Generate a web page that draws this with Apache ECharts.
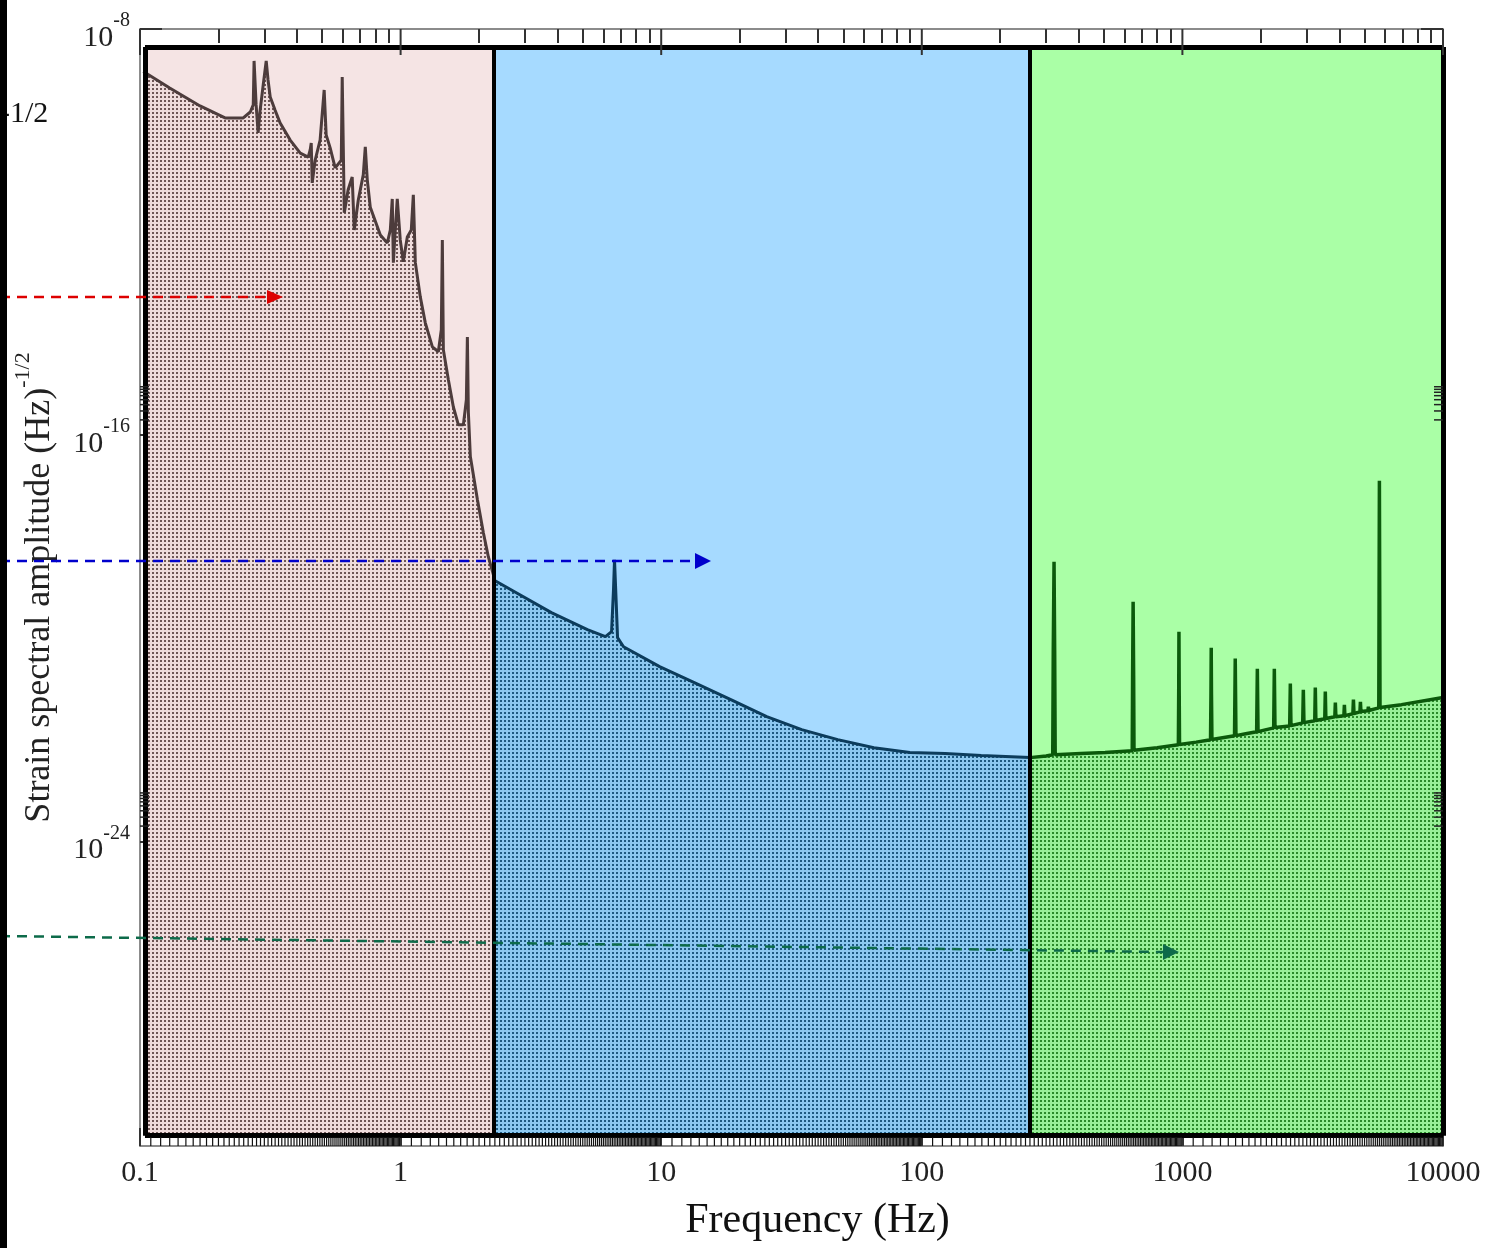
<!DOCTYPE html>
<html>
<head>
<meta charset="utf-8">
<script src="https://cdn.jsdelivr.net/npm/echarts@6/dist/echarts.min.js"></script>
<style>
  html, body { margin: 0; padding: 0; background: #fff; }
  #chart { width: 1490px; height: 1248px; }
</style>
</head>
<body>
<div id="chart"></div>
<script>
// frequency (Hz), strain amplitude (Hz^-1/2)
const pinkCurve = [
  [0.103, 1.45e-9], [0.130, 6.9e-10], [0.170, 3.05e-10], [0.212, 1.77e-10], [0.249, 1.77e-10],
  [0.265, 2.32e-10], [0.272, 3.2e-10], [0.274, 2.35e-9], [0.279, 3.2e-10], [0.284, 9.0e-11],
  [0.289, 2.5e-10], [0.297, 7.9e-10], [0.305, 2.35e-9], [0.310, 9.9e-10], [0.316, 4.6e-10],
  [0.330, 2.5e-10], [0.345, 1.41e-10], [0.377, 6.5e-11], [0.412, 3.6e-11], [0.442, 3.0e-11],
  [0.450, 4.2e-11], [0.454, 5.7e-11], [0.458, 9.3e-12], [0.470, 2.6e-11], [0.491, 6.5e-11],
  [0.509, 6.3e-10], [0.518, 8.2e-11], [0.537, 4.5e-11], [0.561, 1.84e-11], [0.592, 2.6e-11],
  [0.597, 1.13e-9], [0.608, 2.4e-12], [0.629, 6.8e-12], [0.652, 1.22e-11], [0.664, 1.1e-12],
  [0.688, 4.3e-12], [0.719, 1.34e-11], [0.732, 4.75e-11], [0.745, 1.07e-11], [0.765, 3.1e-12],
  [0.836, 8.8e-13], [0.889, 6.1e-13], [0.913, 1.1e-12], [0.929, 4.5e-12], [0.938, 2.5e-13],
  [0.954, 1.1e-12], [0.971, 4.5e-12], [0.997, 7.0e-13], [1.024, 2.6e-13], [1.061, 8.0e-13],
  [1.099, 1.1e-12], [1.119, 5.4e-12], [1.139, 2.5e-13], [1.190, 5.3e-14], [1.244, 1.63e-14],
  [1.324, 5.5e-15], [1.396, 4.4e-15], [1.433, 1.19e-14], [1.446, 7.0e-13], [1.459, 4.8e-15],
  [1.525, 1.23e-15], [1.594, 3.6e-16], [1.666, 1.6e-16], [1.741, 1.6e-16], [1.788, 5.0e-16],
  [1.804, 8.6e-15], [1.820, 2.8e-16], [1.852, 3.8e-17], [1.971, 5.4e-18], [2.078, 1.2e-18],
  [2.172, 4.0e-19], [2.27, 1.8e-19]
];
const blueCurve = [
  [2.27, 1.42e-19], [2.78, 7.9e-20], [3.79, 3.2e-20], [5.21, 1.48e-20], [6.11, 1.08e-20],
  [6.45, 1.35e-20], [6.56, 9.0e-20], [6.62, 3.5e-19], [6.69, 9.0e-20], [6.80, 1.03e-20],
  [7.17, 6.8e-21], [9.86, 2.76e-21], [13.4, 1.34e-21], [18.5, 6.2e-22], [25.4, 2.86e-22],
  [34.6, 1.59e-22], [47.6, 1.01e-22], [65.5, 7.0e-23], [90, 5.6e-23], [123, 5.35e-23],
  [169, 4.9e-23], [260, 4.46e-23]
];
const greenCurve = [
  [260, 4.46e-23], [300, 4.8e-23],
  [318, 5.1e-23], [319.5, 5.5e-21], [321.7, 3.2e-19], [323.5, 5.5e-21], [325, 5.1e-23],
  [408, 5.35e-23], [505, 5.6e-23],
  [642, 6.1e-23], [644, 1.75e-21], [647, 5.25e-20], [650, 1.75e-21], [652, 6.2e-23],
  [800, 7.0e-23],
  [965, 8.0e-23], [968, 9.7e-22], [970, 1.35e-20], [972, 9.7e-22], [975, 8.1e-23],
  [1130, 9.0e-23],
  [1282, 1.0e-22], [1287, 7.8e-22], [1290, 6.5e-21], [1293, 7.8e-22], [1298, 1.01e-22],
  [1585, 1.2e-22], [1595, 4.0e-21], [1605, 1.21e-22],
  [1750, 1.32e-22],
  [1927, 1.44e-22], [1939, 2.5e-21], [1951, 1.45e-22],
  [2240, 1.72e-22], [2253, 2.5e-21], [2266, 1.74e-22],
  [2580, 1.88e-22], [2595, 1.28e-21], [2610, 1.9e-22],
  [2895, 2.16e-22], [2911, 9.7e-22], [2927, 2.18e-22],
  [3220, 2.37e-22], [3236, 1.07e-21], [3252, 2.4e-22],
  [3518, 2.6e-22], [3535, 8.9e-22], [3552, 2.62e-22],
  [3845, 2.84e-22], [3863, 5.4e-22], [3881, 2.86e-22],
  [4165, 2.98e-22], [4184, 4.9e-22], [4203, 3.0e-22],
  [4510, 3.25e-22], [4532, 6.2e-22], [4554, 3.3e-22],
  [4800, 3.55e-22], [4821, 5.6e-22], [4842, 3.6e-22],
  [5150, 3.75e-22], [5172, 4.5e-22], [5194, 3.78e-22],
  [5670, 4.25e-22], [5685, 7.2e-20], [5701, 1.27e-17], [5717, 7.2e-20], [5732, 4.35e-22],
  [6928, 4.93e-22], [10000, 6.8e-22]
];

// band limits: [left, divider1, divider2, right], box top / bottom
const bandEdges = [0.1045, 2.27, 260, 10000];
const boxTop = 4.4e-9;
const boxBottom = 1.6e-30;

const freqTicks = [0.1, 1, 10, 100, 1000, 10000];
const freqLabels = ['0.1', '1', '10', '100', '1000', '10000'];
const ampTicks = [1e-8, 1e-16, 1e-24];
const ampMinorTicks = [2e-16, 3e-16, 4e-16, 5e-16, 6e-16, 7e-16, 8e-16, 9e-16,
                       2e-24, 3e-24, 4e-24, 5e-24, 6e-24, 7e-24, 8e-24, 9e-24];

// log minor ticks (2..9 per decade) and the dense bottom band
const freqMinorTicks = [];
const freqDenseTicks = [];
[0.1, 1, 10, 100, 1000].forEach(d => {
    for (let k = 2; k <= 9; k++) freqMinorTicks.push(d * k);
    for (let k = 11; k <= 99; k++) freqDenseTicks.push(d * k / 10);
});

const SERIF = '"Liberation Serif", "DejaVu Serif", serif';
const AMP_TOP = 1e-8, AMP_BOTTOM = 1e-30;

function dots(bg, dot) {
    const c = document.createElement('canvas');
    c.width = 4; c.height = 4;
    const g = c.getContext('2d');
    g.fillStyle = bg; g.fillRect(0, 0, 4, 4);
    g.fillStyle = dot; g.fillRect(0, 0, 2, 2);
    return { image: c, repeat: 'repeat' };
}

// tick marks drawn through the axes' own scales
function tickSeries(name, points, dx, dy, color, width) {
    return {
        name: name, type: 'custom', silent: true, z: 10, data: points,
        renderItem: (params, api) => {
            const p = api.coord([api.value(0), api.value(1)]);
            return {
                type: 'line',
                shape: { x1: p[0], y1: p[1], x2: p[0] + dx, y2: p[1] + dy },
                style: { stroke: color, lineWidth: width }
            };
        }
    };
}

const chart = echarts.init(document.getElementById('chart'));

const tickStyle = { color: '#333', width: 2 };
const axisLine = { show: true, onZero: false, lineStyle: { color: '#666', width: 1.5 } };

const option = {
    animation: false,
    backgroundColor: '#fff',
    grid: { left: 140, right: 47, top: 29, bottom: 102 },
    xAxis: [
        {
            type: 'log', logBase: 10, min: 0.1, max: 10000, position: 'bottom',
            splitLine: { show: false }, axisLine: axisLine,
            axisTick: { inside: true, length: 18, customValues: freqTicks, lineStyle: tickStyle },
            axisLabel: {
                customValues: freqTicks, margin: 12,
                fontFamily: SERIF, fontSize: 30, color: '#222',
                formatter: v => freqLabels[Math.round(Math.log10(v)) + 1]
            },
            name: 'Frequency (Hz)', nameLocation: 'middle', nameGap: 54,
            nameTextStyle: { fontFamily: SERIF, fontSize: 42, color: '#111', padding: [0, 0, 0, 52] }
        },
        {
            type: 'log', logBase: 10, min: 0.1, max: 10000, position: 'top',
            splitLine: { show: false }, axisLine: axisLine,
            axisTick: { inside: true, length: 14, customValues: freqMinorTicks, lineStyle: tickStyle },
            axisLabel: { show: false }
        }
    ],
    yAxis: [
        {
            type: 'log', logBase: 10, min: AMP_BOTTOM, max: AMP_TOP, position: 'left',
            splitLine: { show: false }, axisLine: axisLine,
            axisTick: { inside: true, length: 22, customValues: ampTicks, lineStyle: tickStyle },
            axisLabel: {
                customValues: ampTicks, margin: 10, padding: [6, 0, 0, 0],
                formatter: v => '{b|10}{e|' + Math.round(Math.log10(v)) + '}',
                rich: {
                    b: { fontFamily: SERIF, fontSize: 30, color: '#222', lineHeight: 42, verticalAlign: 'bottom' },
                    e: { fontFamily: SERIF, fontSize: 20, color: '#222', verticalAlign: 'top' }
                }
            },
            name: '{a|Strain spectral amplitude (Hz)}{e|-1/2}',
            nameLocation: 'middle', nameRotate: 90, nameGap: 82,
            nameTextStyle: {
                rich: {
                    a: { fontFamily: SERIF, fontSize: 36, color: '#222', lineHeight: 46, verticalAlign: 'bottom' },
                    e: { fontFamily: SERIF, fontSize: 22, color: '#222', verticalAlign: 'top' }
                }
            }
        },
        {
            type: 'log', logBase: 10, min: AMP_BOTTOM, max: AMP_TOP, position: 'right',
            splitLine: { show: false }, axisLine: axisLine,
            axisTick: { inside: true, length: 22, customValues: ampTicks, lineStyle: tickStyle },
            axisLabel: { show: false }
        }
    ],
    series: [
        {
            name: 'low', type: 'line', data: pinkCurve, symbol: 'none', clip: false, z: 2,
            lineStyle: { color: '#4d3c3c', width: 3 },
            areaStyle: { origin: boxBottom, color: dots('#efdcdc', '#6e5656'), opacity: 1 },
            markArea: {
                silent: true,
                data: [
                    [{ coord: [bandEdges[0], boxTop], itemStyle: { color: '#f5e4e4' } }, { coord: [bandEdges[1], boxBottom] }],
                    [{ coord: [bandEdges[1], boxTop], itemStyle: { color: '#a6daff' } }, { coord: [bandEdges[2], boxBottom] }],
                    [{ coord: [bandEdges[2], boxTop], itemStyle: { color: '#aaffa6' } }, { coord: [bandEdges[3], boxBottom] }]
                ]
            },
            markLine: {
                silent: true, symbol: 'none', label: { show: false },
                lineStyle: { color: '#000', width: 5, type: 'solid' },
                data: [
                    [{ coord: [bandEdges[0], boxTop] }, { coord: [bandEdges[3], boxTop] }],
                    [{ coord: [bandEdges[0], boxBottom] }, { coord: [bandEdges[3], boxBottom] }],
                    [{ coord: [bandEdges[0], boxBottom] }, { coord: [bandEdges[0], boxTop] }],
                    [{ coord: [bandEdges[3], boxBottom] }, { coord: [bandEdges[3], boxTop] }],
                    [{ coord: [bandEdges[1], boxBottom], lineStyle: { width: 4 } }, { coord: [bandEdges[1], boxTop] }],
                    [{ coord: [bandEdges[2], boxBottom], lineStyle: { width: 4 } }, { coord: [bandEdges[2], boxTop] }]
                ]
            }
        },
        {
            name: 'mid', type: 'line', data: blueCurve, symbol: 'none', z: 2,
            lineStyle: { color: '#0c3c5c', width: 3 },
            areaStyle: { origin: boxBottom, color: dots('#8cc8f0', '#1e5a82'), opacity: 1 }
        },
        {
            name: 'high', type: 'line', data: greenCurve, symbol: 'none', z: 2,
            lineStyle: { color: '#0b5a0b', width: 3.5 },
            areaStyle: { origin: boxBottom, color: dots('#98f098', '#2a8a2a'), opacity: 1 }
        },
        tickSeries('topMajor', freqTicks.map(f => [f, AMP_TOP]), 0, 26, '#333', 2),
        tickSeries('bottomBand', freqDenseTicks.map(f => [f, AMP_BOTTOM]), 0, -9, '#111', 1.2),
        tickSeries('leftMinor', ampMinorTicks.map(a => [0.1, a]), 9, 0, '#222', 1.5),
        tickSeries('rightMinor', ampMinorTicks.map(a => [10000, a]), -9, 0, '#222', 1.5)
    ],
    graphic: [
        // dashed arrows coming in from the cropped left side
        { type: 'polyline', shape: { points: [[0, 297], [270, 297]] }, style: { stroke: '#dd0000', lineWidth: 2.5, lineDash: [10, 7] }, z: 50 },
        { type: 'polygon', shape: { points: [[267, 290], [283, 297], [267, 304]] }, style: { fill: '#dd0000' }, z: 50 },
        { type: 'polyline', shape: { points: [[0, 561], [696, 561]] }, style: { stroke: '#0000cc', lineWidth: 2.5, lineDash: [10, 7] }, z: 50 },
        { type: 'polygon', shape: { points: [[695, 553], [711, 561], [695, 569]] }, style: { fill: '#0000cc' }, z: 50 },
        { type: 'polyline', shape: { points: [[0, 936], [1164, 952]] }, style: { stroke: '#0d6b4a', lineWidth: 2.5, lineDash: [10, 7] }, z: 50 },
        { type: 'polygon', shape: { points: [[1163, 944], [1179, 952], [1163, 960]] }, style: { fill: '#0d6b4a' }, z: 50 },
        { type: 'text', x: 0, y: 114, style: { text: '-1/2', font: '30px "Liberation Serif"', fill: '#111', verticalAlign: 'middle' }, z: 40 },
        { type: 'rect', shape: { x: 0, y: 0, width: 7, height: 1248 }, style: { fill: '#000' }, z: 60 }
    ]
};

chart.setOption(option);
</script>
</body>
</html>
